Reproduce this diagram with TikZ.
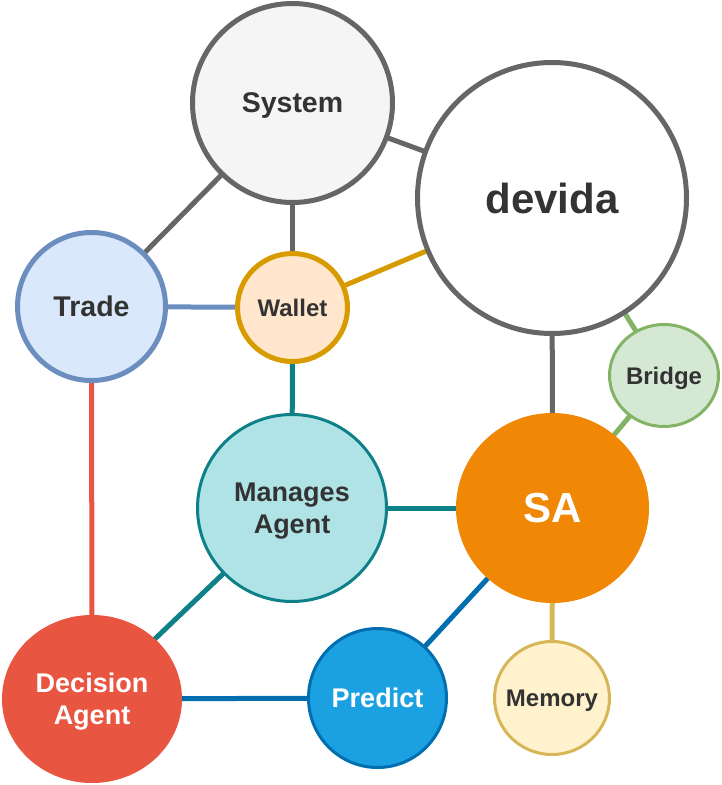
\documentclass[tikz,border=0pt]{standalone}
\usepackage{fontspec}
\setmainfont{Liberation Sans}
\usetikzlibrary{shapes.geometric}
\usetikzlibrary{backgrounds}

\definecolor{ink}{HTML}{333333}
\definecolor{grayline}{HTML}{666666}
\definecolor{sysfill}{HTML}{F5F5F5}
\definecolor{tradefill}{HTML}{DAE8FC}
\definecolor{tradeline}{HTML}{6C8EBF}
\definecolor{walletfill}{HTML}{FFE6CC}
\definecolor{walletline}{HTML}{D79B00}
\definecolor{bridgefill}{HTML}{D5E8D4}
\definecolor{bridgeline}{HTML}{82B366}
\definecolor{managefill}{HTML}{B0E3E6}
\definecolor{manageline}{HTML}{0E8088}
\definecolor{safill}{HTML}{F08705}
\definecolor{decfill}{HTML}{E85642}
\definecolor{predfill}{HTML}{1BA1E2}
\definecolor{predline}{HTML}{006EAF}
\definecolor{memfill}{HTML}{FFF2CC}
\definecolor{memline}{HTML}{D6B656}

\begin{document}
\begin{tikzpicture}[x=1pt, y=-1pt,
    bubble/.style={ellipse, draw, inner sep=-30pt, align=center, text=ink, text depth=0pt},
    big/.style={font=\fontsize{42}{48}\selectfont\bfseries},
    mid/.style={font=\fontsize{28.5}{33}\selectfont\bfseries},
    midtwo/.style={font=\fontsize{27}{32}\selectfont\bfseries},
    small/.style={font=\fontsize{24}{28}\selectfont\bfseries},
    link/.style={line width=5pt}]
    \useasboundingbox (0,0) rectangle (722,785);

    \path (292.5, 103) node [bubble, mid, line width=5pt, draw=grayline, fill=sysfill,
        minimum width=200pt, minimum height=199pt] (sys) {System};
    \path (552, 198) node [bubble, big, line width=5pt, draw=grayline, fill=white,
        minimum width=269pt, minimum height=271pt] (dev) {devida};
    \path (91.5, 306.5) node [bubble, mid, line width=5pt, draw=tradeline, fill=tradefill,
        minimum width=148pt, minimum height=148pt] (trade) {Trade};
    \path (292.5, 307.5) node [bubble, small, line width=5pt, draw=walletline, fill=walletfill,
        minimum width=110pt, minimum height=108pt] (wallet) {Wallet};
    \path (664, 375.5) node [bubble, small, line width=3pt, draw=bridgeline, fill=bridgefill,
        minimum width=109pt, minimum height=102pt] (bridge) {Bridge};
    \path (292, 508) node [bubble, midtwo, line width=3pt, draw=manageline, fill=managefill,
        minimum width=189pt, minimum height=187pt] (manage) {Manages\\Agent};
    \path (552.5, 508) node [bubble, big, text=white, line width=1pt, draw=safill, fill=safill,
        minimum width=192pt, minimum height=189pt] (sa) {SA};
    \path (92, 699) node [bubble, midtwo, text=white, line width=1pt, draw=decfill, fill=decfill,
        minimum width=179pt, minimum height=167pt] (dec) {Decision\\Agent};
    \path (377.5, 698) node [bubble, midtwo, text=white, line width=3pt, draw=predline, fill=predfill,
        minimum width=138pt, minimum height=139pt] (pred) {Predict};
    \path (552, 698) node [bubble, small, line width=3pt, draw=memline, fill=memfill,
        minimum width=115pt, minimum height=113pt] (mem) {Memory};

    \begin{scope}[on background layer]
    \draw [link, grayline] (sys.center) -- (dev.center);
    \draw [link, grayline] (sys.center) -- (trade.center);
    \draw [link, grayline] (sys.center) -- (wallet.center);
    \draw [link, grayline] (dev.center) -- (sa.center);
    \draw [link, walletline] (dev.center) -- (wallet.center);
    \draw [link, bridgeline] (dev.center) -- (bridge.center);
    \draw [link, bridgeline] (bridge.center) -- (sa.center);
    \draw [link, tradeline] (trade.center) -- (wallet.center);
    \draw [link, decfill] (trade.center) -- (dec.center);
    \draw [link, manageline] (wallet.center) -- (manage.center);
    \draw [link, manageline] (manage.center) -- (sa.center);
    \draw [link, manageline] (manage.center) -- (dec.center);
    \draw [link, predline] (dec.center) -- (pred.center);
    \draw [link, predline] (pred.center) -- (sa.center);
    \draw [link, memline] (sa.center) -- (mem.center);
    \end{scope}
\end{tikzpicture}
\end{document}
